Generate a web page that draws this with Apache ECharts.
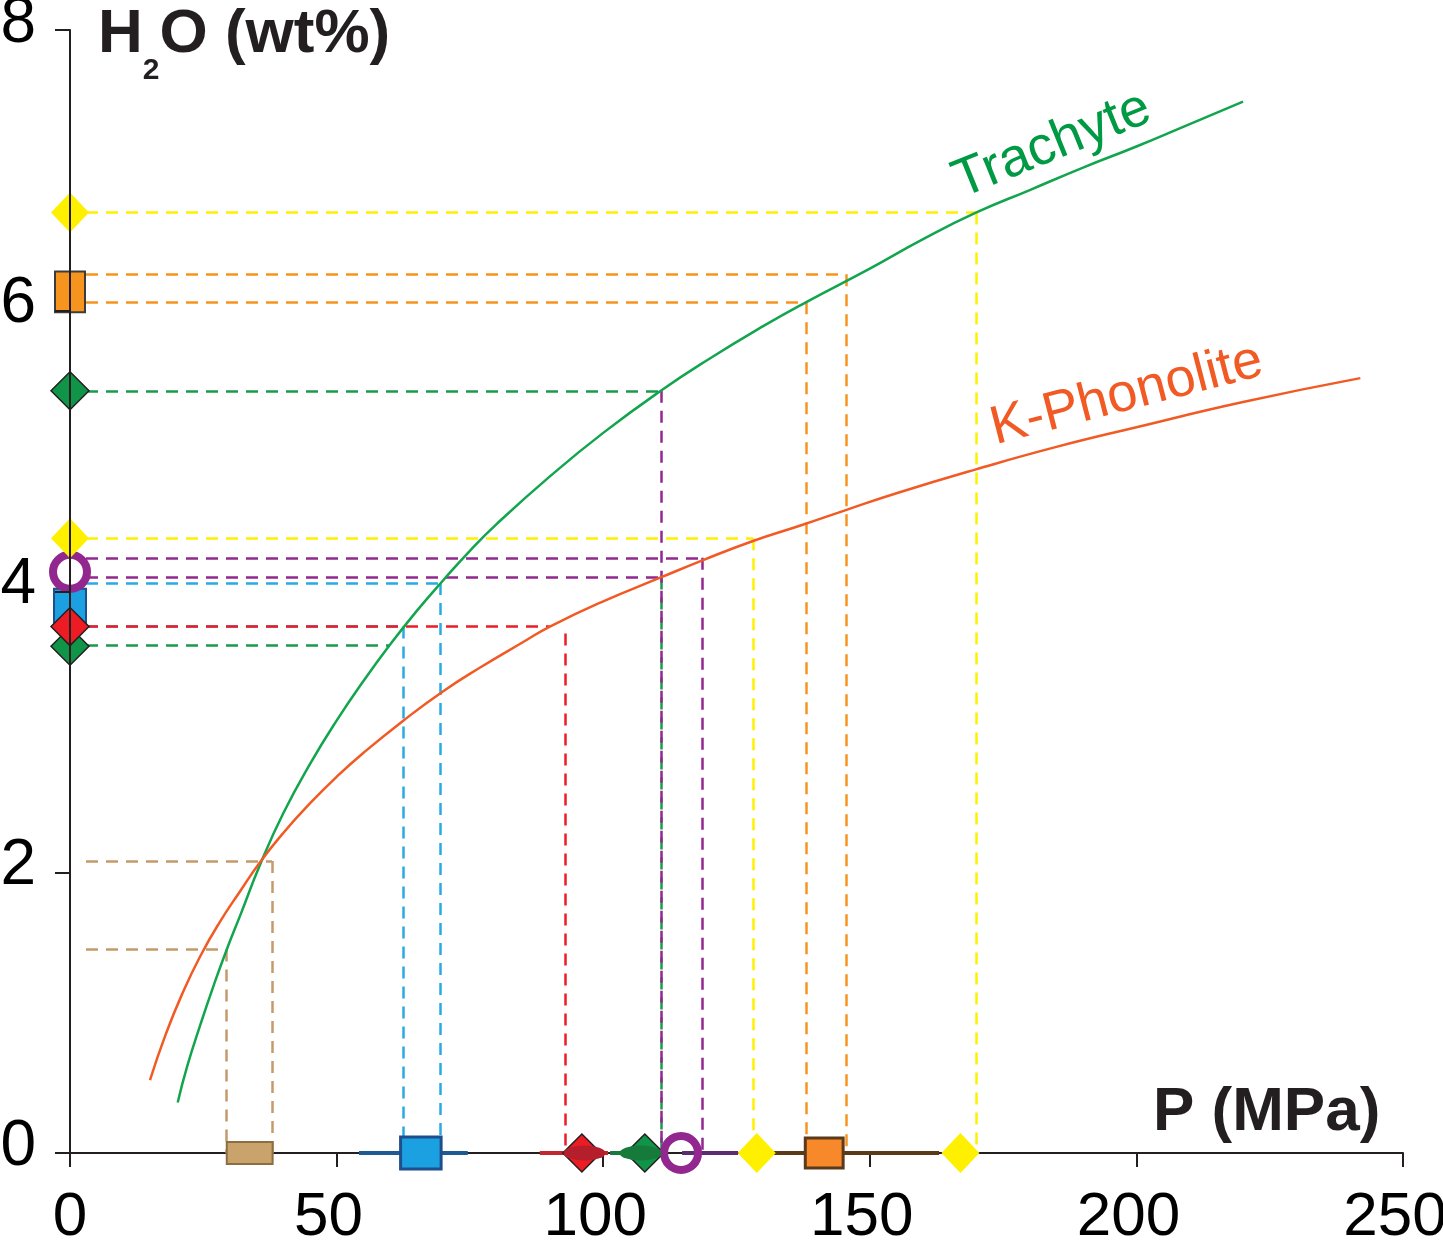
<!DOCTYPE html>
<html>
<head>
<meta charset="utf-8">
<script src="https://cdn.jsdelivr.net/npm/echarts@6/dist/echarts.min.js"></script>
<style>
  html, body { margin: 0; padding: 0; background: #fff; }
  #chart { width: 1443px; height: 1252px; }
</style>
</head>
<body>
<div id="chart"></div>
<script>
// solubility curves, P (MPa) vs H2O (wt%)
const trachyteP = [20.2, 22, 24.5, 27, 29.4, 32, 35.6, 40, 45, 50, 55, 60, 65, 70, 75, 80, 90, 100, 110.8, 120, 130, 138, 150, 160, 170, 180, 190, 200, 210, 220];
const trachyteH = [0.36, 0.62, 0.92, 1.20, 1.45, 1.70, 2.05, 2.42, 2.77, 3.08, 3.36, 3.62, 3.86, 4.08, 4.29, 4.48, 4.82, 5.13, 5.43, 5.66, 5.89, 6.06, 6.30, 6.51, 6.70, 6.86, 7.02, 7.17, 7.33, 7.49];
const phonoliteP = [15, 18, 21, 24.4, 28, 32, 35.6, 40, 45, 50, 55, 62.5, 70, 77, 85, 90, 100, 110.8, 118.5, 128.1, 137, 145.5, 155, 169.9, 185, 200, 220, 242];
const phonoliteH = [0.52, 0.85, 1.13, 1.40, 1.64, 1.87, 2.07, 2.28, 2.49, 2.68, 2.85, 3.08, 3.29, 3.46, 3.64, 3.75, 3.93, 4.10, 4.22, 4.36, 4.47, 4.58, 4.70, 4.87, 5.03, 5.17, 5.35, 5.52];

// dashed read-off lines: horizontal from the H2O axis, vertical down to the P axis
const hLevel = [6.70, 6.26, 6.06, 5.43, 4.38, 4.24, 4.10, 4.06, 3.75, 3.75, 3.62, 2.08, 1.45];
const hEnd   = [169.9, 145.5, 138.0, 110.8, 128.1, 118.5, 110.8, 69.4, 62.5, 90.0, 60.0, 37.9, 29.3];
const hColor = ['yellow', 'orange', 'orange', 'green', 'yellow', 'purple', 'purple', 'blue', 'blue', 'red', 'green', 'brown', 'brown'];
const vPos   = [169.9, 145.5, 138.0, 110.8, 110.8, 128.1, 118.5, 69.4, 62.5, 92.8, 37.9, 29.3];
const vTop   = [6.70, 6.26, 6.06, 4.10, 5.43, 4.38, 4.24, 4.06, 3.75, 3.70, 2.08, 1.45];
const vColor = ['yellow', 'orange', 'orange', 'green', 'purple', 'yellow', 'purple', 'blue', 'blue', 'red', 'brown', 'brown'];

// symbols sitting on the H2O axis (P = 0)
const yMarkH    = [3.61, 3.75, 4.14, 4.38, 5.43, 6.70];
const yMarkKind = ['greenDiamond', 'redDiamond', 'purpleRing', 'yellowDiamond', 'greenDiamond', 'yellowDiamond'];
const yBoxLo    = [5.99, 3.76];
const yBoxHi    = [6.28, 4.02];
const yBoxKind  = ['orange', 'blue'];

// symbols sitting on the P axis (H2O = 0)
const xMarkP    = [96.0, 107.8, 114.6, 128.8, 167.0];
const xMarkKind = ['redDiamond', 'greenDiamond', 'purpleRing', 'yellowDiamond', 'yellowDiamond'];
const xBoxLo    = [29.4, 62.0, 137.9];
const xBoxHi    = [38.0, 69.6, 145.0];
const xBoxKind  = ['brown', 'blue', 'orange'];
const errLo     = [54.2, 88.1, 101.3, 114.8, 126.0];
const errHi     = [74.6, 100.9, 110.6, 125.3, 163.0];
const errKind   = ['blue', 'red', 'green', 'purple', 'brown'];
const lensP     = [96.5, 107.0];
const lensKind  = ['red', 'green'];

const FONT = "'Liberation Sans', Arial, Helvetica, sans-serif";
const dashColor = {
  yellow: '#fff000', orange: '#f7941d', green: '#1a9a4b', purple: '#92278f',
  blue: '#29abe2', red: '#ed1c24', brown: '#c49a6c'
};
const errColor = { blue: '#1f5b93', red: '#c1272d', green: '#177a3c', purple: '#5c2d6e', brown: '#5b3a16' };
const lensColor = { red: '#b51f2b', green: '#157a3a' };
const markStyle = {
  yellowDiamond: { symbol: 'diamond', size: [38, 40], item: { color: '#fff000', opacity: 1 } },
  greenDiamond: { symbol: 'diamond', size: [38, 38], item: { color: '#109447', borderColor: '#231f20', borderWidth: 1.5, opacity: 1 } },
  redDiamond: { symbol: 'diamond', size: [38, 38], item: { color: '#ed1c24', borderColor: '#231f20', borderWidth: 1.5, opacity: 1 } },
  purpleRing: { symbol: 'circle', size: 34, item: { color: 'rgba(0,0,0,0)', borderColor: '#92278f', borderWidth: 8, opacity: 1 } }
};
const yBoxStyle = {
  orange: { w: 30, fill: '#f7941d', stroke: '#3c3c3c', lw: 2 },
  blue: { w: 32, fill: '#1ba1e2', stroke: '#1f4e8c', lw: 2 }
};
const xBoxStyle = {
  brown: { h: 22, fill: '#c9a26c', stroke: '#8d6e43', lw: 2 },
  blue: { h: 32, fill: '#1ba1e2', stroke: '#1f4e8c', lw: 3 },
  orange: { h: 30, fill: '#f7892b', stroke: '#5a3a1a', lw: 3 }
};

const chart = echarts.init(document.getElementById('chart'), null, { renderer: 'canvas' });

const dashSegs = [];
hLevel.forEach((h, i) => {
  dashSegs.push({ coords: [[3, h], [hEnd[i], h]], lineStyle: { color: dashColor[hColor[i]] } });
});
vPos.forEach((p, i) => {
  dashSegs.push({ coords: [[p, vTop[i]], [p, 0]], lineStyle: { color: dashColor[vColor[i]] } });
});

const errSegs = errLo.map((lo, i) => ({
  coords: [[lo, 0], [errHi[i], 0]], lineStyle: { color: errColor[errKind[i]] }
}));

const markItem = (value, kind) => {
  const s = markStyle[kind];
  return { value, symbol: s.symbol, symbolSize: s.size, itemStyle: s.item };
};

chart.setOption({
  animation: false,
  textStyle: { fontFamily: FONT },
  grid: { left: 70, right: 40, top: 30, bottom: 99, containLabel: false, outerBoundsMode: 'none' },
  title: [
    {
      text: '{a|H}{b|2}{a|O (wt%)}',
      left: 98, top: 4, padding: 0,
      textStyle: {
        rich: {
          a: { fontSize: 62, fontWeight: 'bold', fontFamily: FONT, color: '#231f20', lineHeight: 62, verticalAlign: 'top' },
          b: { fontSize: 30, fontWeight: 'bold', fontFamily: FONT, color: '#231f20', lineHeight: 30, verticalAlign: 'top', padding: [52, 0, 0, 0] }
        }
      }
    },
    {
      text: 'P (MPa)',
      left: 1153, top: 1082, padding: 0,
      textStyle: { fontSize: 62, fontWeight: 'bold', fontFamily: FONT, color: '#231f20', lineHeight: 62 }
    }
  ],
  xAxis: {
    type: 'value', min: 0, max: 250, interval: 50, z: 0,
    splitLine: { show: false },
    axisLine: { onZero: false, lineStyle: { color: '#231f20', width: 2 } },
    axisTick: { length: 14, lineStyle: { color: '#231f20', width: 2 } },
    axisLabel: {
      margin: 34,
      formatter: (v) => (v === 0 ? '{z|0}' : '{a|' + v + '}'),
      rich: {
        a: { fontSize: 62, color: '#000', fontFamily: FONT, padding: [0, 16, 0, 0] },
        z: { fontSize: 62, color: '#000', fontFamily: FONT }
      }
    }
  },
  yAxis: {
    type: 'value', min: 0, max: 8, interval: 2, z: 10,
    splitLine: { show: false },
    axisLine: { onZero: false, lineStyle: { color: '#231f20', width: 2 } },
    axisTick: { length: 15, lineStyle: { color: '#231f20', width: 2 } },
    axisLabel: {
      margin: 34,
      formatter: (v) => '{a|' + v + '}',
      rich: { a: { fontSize: 64, color: '#000', fontFamily: FONT, padding: [0, 0, 12, 0] } }
    }
  },
  series: [
    {
      name: 'Trachyte', type: 'line', z: 3, smooth: 0.5, showSymbol: false,
      lineStyle: { color: '#12a54e', width: 2.5 },
      data: trachyteP.map((p, i) => [p, trachyteH[i]])
    },
    {
      name: 'K-Phonolite', type: 'line', z: 3, smooth: 0.5, showSymbol: false,
      lineStyle: { color: '#f15a24', width: 2.5 },
      data: phonoliteP.map((p, i) => [p, phonoliteH[i]])
    },
    {
      type: 'lines', coordinateSystem: 'cartesian2d', z: 2, silent: true,
      lineStyle: { width: 2.5, type: [12, 8], opacity: 1 },
      data: dashSegs
    },
    {
      type: 'lines', coordinateSystem: 'cartesian2d', z: 4, silent: true,
      lineStyle: { width: 4, type: 'solid', opacity: 1 },
      data: errSegs
    },
    {
      type: 'custom', coordinateSystem: 'cartesian2d', z: 5, clip: false,
      encode: { x: 2, y: [0, 1] },
      data: yBoxLo.map((lo, i) => [lo, yBoxHi[i], 0, i]),
      renderItem: (params, api) => {
        const st = yBoxStyle[yBoxKind[api.value(3)]];
        const a = api.coord([0, api.value(0)]);
        const b = api.coord([0, api.value(1)]);
        return {
          type: 'rect',
          shape: { x: a[0] - st.w / 2, y: b[1], width: st.w, height: a[1] - b[1] },
          style: { fill: st.fill, stroke: st.stroke, lineWidth: st.lw }
        };
      }
    },
    {
      type: 'custom', coordinateSystem: 'cartesian2d', z: 5, clip: false,
      encode: { x: [0, 1], y: 2 },
      data: xBoxLo.map((lo, i) => [lo, xBoxHi[i], 0, i]),
      renderItem: (params, api) => {
        const st = xBoxStyle[xBoxKind[api.value(3)]];
        const a = api.coord([api.value(0), 0]);
        const b = api.coord([api.value(1), 0]);
        return {
          type: 'rect',
          shape: { x: a[0], y: a[1] - st.h / 2, width: b[0] - a[0], height: st.h },
          style: { fill: st.fill, stroke: st.stroke, lineWidth: st.lw }
        };
      }
    },
    {
      type: 'scatter', z: 6, clip: false, silent: true,
      itemStyle: { opacity: 1 },
      data: yMarkH.map((h, i) => markItem([0, h], yMarkKind[i]))
    },
    {
      type: 'scatter', z: 6, clip: false, silent: true,
      itemStyle: { opacity: 1 },
      data: xMarkP.map((p, i) => markItem([p, 0], xMarkKind[i]))
    },
    {
      type: 'scatter', z: 7, clip: false, silent: true,
      symbol: 'circle', symbolSize: [42, 15],
      data: lensP.map((p, i) => ({ value: [p, 0], itemStyle: { color: lensColor[lensKind[i]], opacity: 1 } }))
    },
    {
      type: 'scatter', z: 8, silent: true, symbolSize: 0,
      itemStyle: { opacity: 1 },
      label: { show: true, position: 'inside', fontFamily: FONT, fontSize: 54, opacity: 1 },
      data: [
        { value: [184.2, 7.18], label: { formatter: 'Trachyte', rotate: 22, color: '#009a44' } },
        { value: [198.2, 5.40], label: { formatter: 'K-Phonolite', rotate: 14.5, color: '#f15a24' } }
      ]
    }
  ]
});
</script>
</body>
</html>
